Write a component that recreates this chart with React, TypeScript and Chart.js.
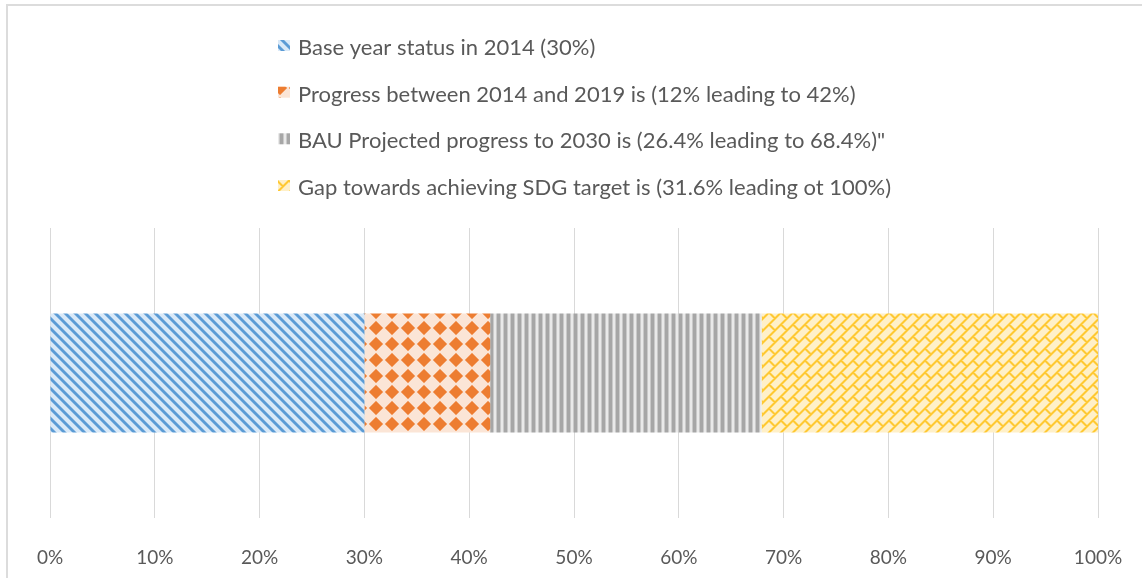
import React, { useEffect, useRef } from "react";
import { Chart, registerables } from "chart.js";

Chart.register(...registerables);

const categories = [""];
const seriesNames = [
  "Base year status in 2014 (30%)",
  "Progress between 2014 and 2019 is (12% leading to 42%)",
  "BAU Projected progress to 2030 is (26.4% leading to 68.4%)\"",
  "Gap towards achieving SDG target is (31.6% leading ot 100%)",
];
const baseValues = [30];
const progressValues = [12];
const bauValues = [25.9];
const gapValues = [32.1];
const tickValues = [0, 10, 20, 30, 40, 50, 60, 70, 80, 90, 100];

const FONT = "Lato, 'Open Sans', sans-serif";
const TEXT = "#595959";

type PixFn = (x: number, y: number) => string;

function makeTile(size: number, fn: PixFn): HTMLCanvasElement {
  const c = document.createElement("canvas");
  c.width = size;
  c.height = size;
  const g = c.getContext("2d")!;
  for (let y = 0; y < size; y++) {
    for (let x = 0; x < size; x++) {
      g.fillStyle = fn(x, y);
      g.fillRect(x, y, 1, 1);
    }
  }
  return c;
}

const mod = (a: number, n: number) => ((a % n) + n) % n;

const blueFn: PixFn = (x, y) => {
  const d = mod(x - y, 10);
  if (d >= 1 && d <= 3) return "#5b9bd5";
  if (d === 0 || d === 4) return "#94bfe6";
  return "#d9e9f8";
};

const orangeFn: PixFn = (x, y) => {
  const px = x + 0.5;
  const py = y + 0.5;
  const dx = Math.abs(mod(px, 16) - 8);
  const dy = Math.abs(mod(py, 16) - 8);
  const dist = dx + dy;
  if (dist < 6.6) return "#ed7d31";
  if (dist < 7.6) return "#f3a672";
  return "#fbe5d6";
};

const grayFn: PixFn = (x) => {
  const d = mod(x, 7);
  if (d <= 2) return "#a6a6a6";
  if (d === 3 || d === 6) return "#c9c9c9";
  return "#e9e9e9";
};

const yellowFn: PixFn = (x, y) => {
  const a = mod(x + y, 24);
  const r = Math.floor(a / 12);
  const la = a % 12;
  const s = mod(x - y + r * 12, 24);
  if (la < 2 || s < 2) return "#ffc833";
  if (la === 2 || la === 11 || s === 2 || s === 23) return "#ffdf80";
  return "#fff0c8";
};

export default function App() {
  const canvasRef = useRef<HTMLCanvasElement | null>(null);

  useEffect(() => {
    const canvas = canvasRef.current;
    if (!canvas) return;
    const ctx = canvas.getContext("2d")!;
    const patterns = [
      ctx.createPattern(makeTile(10, blueFn), "repeat")!,
      ctx.createPattern(makeTile(16, orangeFn), "repeat")!,
      ctx.createPattern(makeTile(7, grayFn), "repeat")!,
      ctx.createPattern(makeTile(24, yellowFn), "repeat")!,
    ];
    const values = [baseValues, progressValues, bauValues, gapValues];

    const legendPlugin = {
      id: "customLegend",
      afterDraw(chart: Chart) {
        const c = chart.ctx;
        c.save();
        const rowY = [48, 94.7, 141.3, 188];
        seriesNames.forEach((name, i) => {
          const y = rowY[i];
          c.fillStyle = patterns[i];
          c.fillRect(278, y - 8, 12, 11);
          c.fillStyle = TEXT;
          c.font = `22px ${FONT}`;
          c.textBaseline = "middle";
          c.textAlign = "left";
          c.fillText(name, 298, y);
        });
        c.restore();
      },
    };

    const chart = new Chart(canvas, {
      type: "bar",
      data: {
        labels: categories,
        datasets: seriesNames.map((name, i) => ({
          label: name,
          data: values[i],
          backgroundColor: patterns[i],
          borderWidth: 0,
          barPercentage: 0.41,
          categoryPercentage: 1,
        })),
      },
      options: {
        indexAxis: "y",
        responsive: false,
        animation: false,
        layout: { padding: { left: 50, right: 44, top: 228, bottom: 9 } },
        scales: {
          x: {
            stacked: true,
            min: 0,
            max: 100,
            afterBuildTicks: (axis: any) => {
              axis.ticks = tickValues.map((v) => ({ value: v }));
            },
            afterFit: (axis: any) => {
              axis.height = 51;
              axis.paddingLeft = 0;
              axis.paddingRight = 0;
            },
            ticks: {
              callback: (v: any) => `${v}%`,
              color: TEXT,
              font: { family: FONT, size: 19 },
              padding: 28,
              maxRotation: 0,
            },
            grid: { color: "#d9d9d9", drawTicks: false, lineWidth: 1 },
            border: { display: false },
          },
          y: { stacked: true, display: false },
        },
        plugins: {
          legend: { display: false },
          tooltip: { enabled: false },
        },
      },
      plugins: [legendPlugin],
    });
    return () => chart.destroy();
  }, []);

  return (
    <div
      style={{
        position: "absolute",
        left: 0,
        top: 0,
        width: 1142,
        height: 578,
        overflow: "hidden",
        background: "#ffffff",
      }}
    >
      <div
        style={{
          position: "absolute",
          left: 6,
          top: 4,
          width: 1200,
          height: 700,
          border: "2px solid #dcdcdc",
          boxSizing: "border-box",
        }}
      />
      <canvas
        ref={canvasRef}
        width={1142}
        height={578}
        style={{ position: "absolute", left: 0, top: 0, width: 1142, height: 578 }}
      />
    </div>
  );
}
